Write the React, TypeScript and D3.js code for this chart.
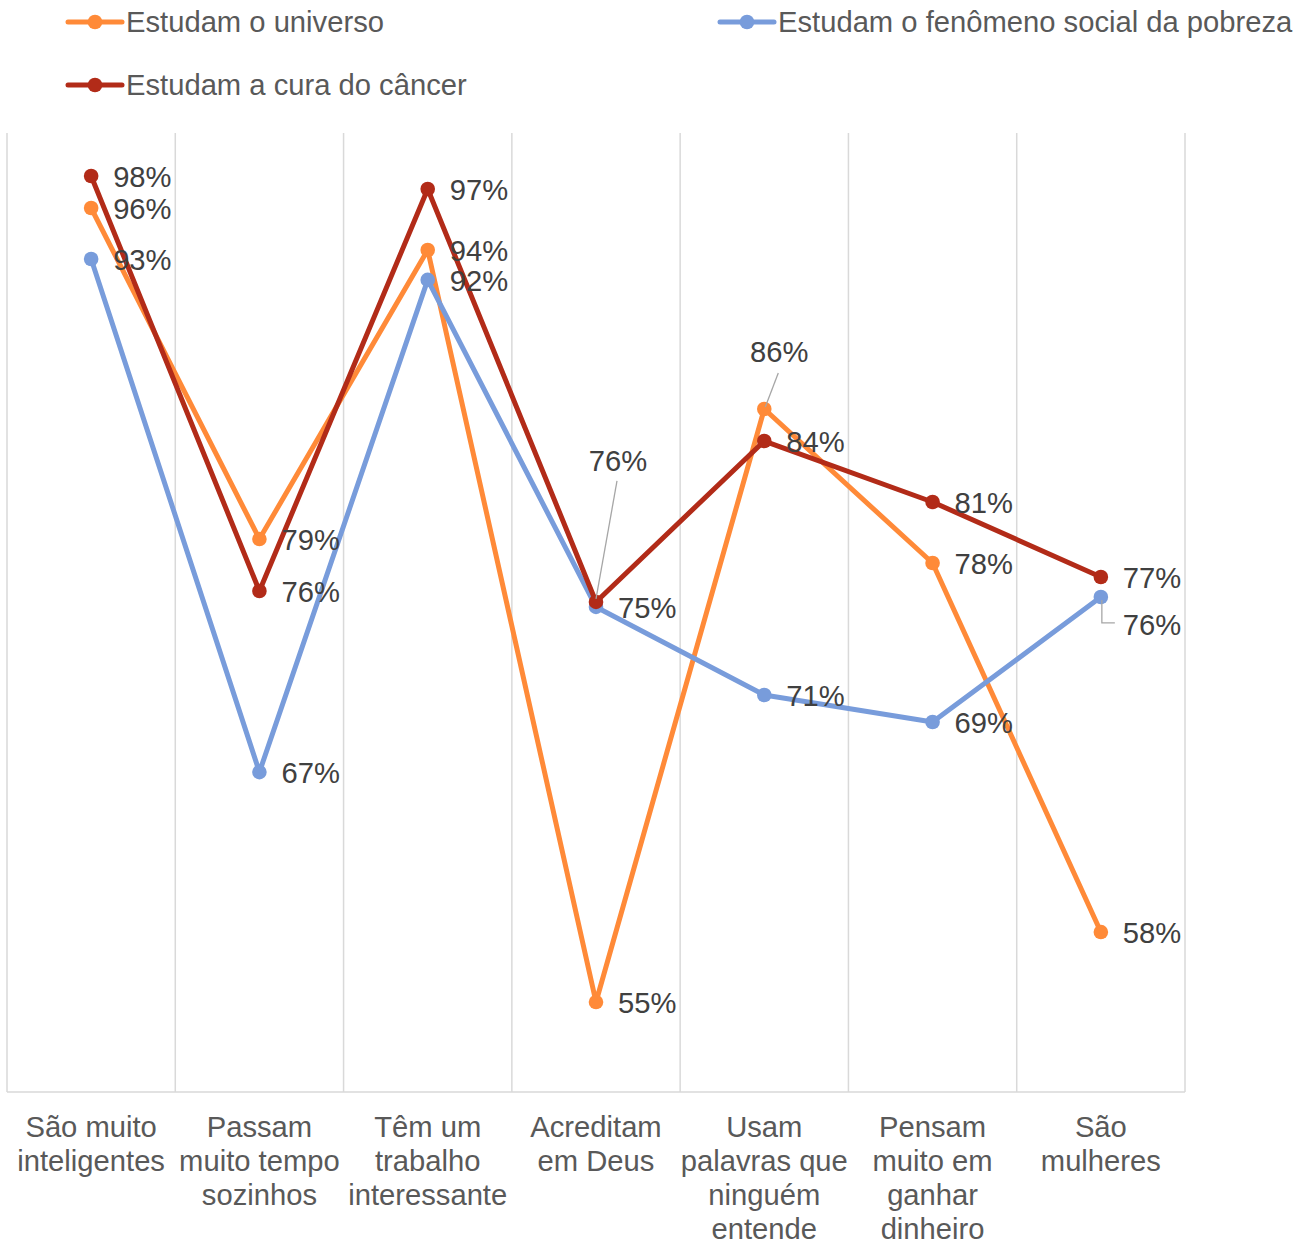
import React from "react";
import * as d3 from "d3";

const categories: string[][] = [
  ["São muito", "inteligentes"],
  ["Passam", "muito tempo", "sozinhos"],
  ["Têm um", "trabalho", "interessante"],
  ["Acreditam", "em Deus"],
  ["Usam", "palavras que", "ninguém", "entende"],
  ["Pensam", "muito em", "ganhar", "dinheiro"],
  ["São", "mulheres"],
];

const universo = [96.09, 78.83, 93.9, 54.69, 85.61, 77.58, 58.34];
const pobreza = [93.43, 66.68, 92.34, 75.29, 70.7, 69.29, 75.81];
const cancer = [97.76, 76.12, 97.08, 75.55, 83.94, 80.76, 76.85];

const seriesNames = [
  "Estudam o universo",
  "Estudam o fenômeno social da pobreza",
  "Estudam a cura do câncer",
];

const yDomain = [50, 100];

const W = 1308;
const H = 1241;
const FONT = "'Liberation Sans', Arial, sans-serif";
const FS = 29.2;

export default function App() {
  const left = 7;
  const right = 1185;
  const top = 133;
  const bottom = 1092;
  const keys = categories.map((_, i) => String(i));
  const x = d3.scaleBand<string>().domain(keys).range([left, right]).padding(0);
  const y = d3.scaleLinear().domain(yDomain).range([bottom, top]);
  const cx = (i: number) => (x(String(i)) as number) + x.bandwidth() / 2;

  const series = [
    { name: seriesNames[0], values: universo, color: "#FF8A38" },
    { name: seriesNames[1], values: pobreza, color: "#789CDB" },
    { name: seriesNames[2], values: cancer, color: "#B22B18" },
  ];
  const line = d3
    .line<number>()
    .x((_, i) => cx(i))
    .y((v) => y(v));

  type Special = { dx: number; dy: number; anchor: string; leader?: [number, number][] };
  const specials: Record<string, Special> = {
    "2-3": { dx: 22, dy: -141, anchor: "middle", leader: [[21, -121], [0, -3]] },
    "0-4": { dx: 15, dy: -57, anchor: "middle", leader: [[14, -36], [1, -2]] },
    "1-6": { dx: 22, dy: 28, anchor: "start", leader: [[1, 3], [1, 26], [14, 26]] },
  };

  const gridXs = d3.range(categories.length + 1).map((i) =>
    i < categories.length ? (x(String(i)) as number) : right
  );

  return (
    <svg width={W} height={H} style={{ display: "block", position: "absolute", left: 0, top: 0 }} fontFamily={FONT}>
      <rect width={W} height={H} fill="#fff" />
      {gridXs.map((gx, i) => (
        <line key={i} x1={gx} x2={gx} y1={top} y2={bottom} stroke="#D9D9D9" strokeWidth={1.5} />
      ))}
      <line x1={left} x2={right} y1={bottom} y2={bottom} stroke="#D9D9D9" strokeWidth={1.5} />

      {series.map((s, si) => (
        <g key={si}>
          <path d={line(s.values) || ""} fill="none" stroke={s.color} strokeWidth={5} strokeLinejoin="round" strokeLinecap="round" />
          {s.values.map((v, i) => (
            <circle key={i} cx={cx(i)} cy={y(v)} r={7.3} fill={s.color} />
          ))}
        </g>
      ))}

      {series.map((s, si) =>
        s.values.map((v, i) => {
          const px = cx(i);
          const py = y(v);
          const sp = specials[`${si}-${i}`];
          const dx = sp ? sp.dx : 22;
          const dy = sp ? sp.dy : 1;
          const anchor = sp ? sp.anchor : "start";
          return (
            <g key={`${si}-${i}`}>
              {sp && sp.leader && (
                <polyline
                  points={sp.leader.map(([a, b]) => `${px + a},${py + b}`).join(" ")}
                  fill="none"
                  stroke="#A6A6A6"
                  strokeWidth={1.3}
                />
              )}
              <text
                x={px + dx}
                y={py + dy}
                fontSize={FS}
                fill="#404040"
                textAnchor={anchor}
                dominantBaseline="central"
              >
                {Math.round(v)}%
              </text>
            </g>
          );
        })
      )}

      {categories.map((lines, i) => (
        <text key={i} x={cx(i)} fontSize={FS} fill="#595959" textAnchor="middle">
          {lines.map((l, j) => (
            <tspan key={j} x={cx(i)} y={1137 + j * 34}>
              {l}
            </tspan>
          ))}
        </text>
      ))}

      {[
        { s: series[0], x0: 68, y0: 22 },
        { s: series[1], x0: 720, y0: 22 },
        { s: series[2], x0: 68, y0: 85 },
      ].map(({ s, x0, y0 }, k) => (
        <g key={k}>
          <line x1={x0} x2={x0 + 54} y1={y0} y2={y0} stroke={s.color} strokeWidth={5} strokeLinecap="round" />
          <circle cx={x0 + 27} cy={y0} r={7.3} fill={s.color} />
          <text x={x0 + 58} y={y0} fontSize={FS} fill="#595959" dominantBaseline="central">
            {s.name}
          </text>
        </g>
      ))}
    </svg>
  );
}
